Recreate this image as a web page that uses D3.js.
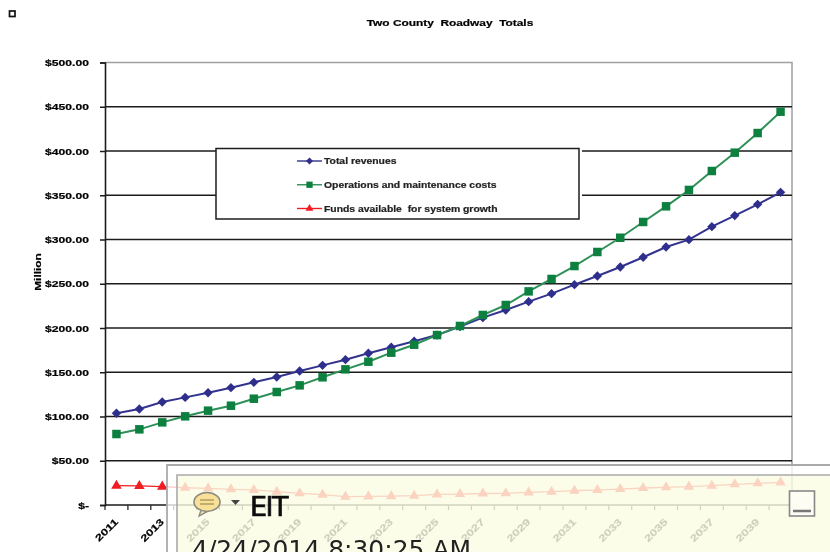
<!DOCTYPE html>
<html><head><meta charset="utf-8">
<script src="https://cdn.jsdelivr.net/npm/d3@7/dist/d3.min.js"></script>
<style>
html,body{margin:0;padding:0;background:#fff}
svg{display:block}
text{font-family:"Liberation Sans",Arial,sans-serif}
</style></head><body>
<svg id="c" width="830" height="552"></svg>
<script>
const years = d3.range(2011, 2041);
const yTicks = [0,50,100,150,200,250,300,350,400,450,500];
const revenues = [103.6,108.5,116.4,121.6,126.9,132.6,138.6,144.6,151.4,157.8,164.2,171.4,178.2,185,192,201.5,211.7,220.3,229.8,238.8,249,258.8,268.9,279.9,291.5,299.8,314.5,327,339.7,353.3];
const costs = [80.2,85.5,93.4,100.2,106.6,112.2,120.1,127.7,135.2,144.3,153.3,161.9,172.1,181.1,192,202.3,214.7,226,241.4,255.4,270,285.9,302,319.8,337.5,356,377.4,398.1,420.3,444.4];
const funds = [21.8,21.5,20.7,19.5,18.8,17.7,17,15,13.2,11.7,9.4,9.7,10,10.5,12,12.4,13,13.2,14.3,15,16.2,17,18,19.2,20,20.7,21.8,23.4,24.5,25.6];
const seriesNames = ["Total revenues","Operations and maintenance costs","Funds available  for system growth"];
const seriesColors = ["#2e2e8c","#0b8040","#f01c24"];
const lineColors = ["#33338f","#2f9058","#f01c24"];
const squareDiamond = {draw(ctx,s){const r=Math.sqrt(s/2);ctx.moveTo(0,-r);ctx.lineTo(r,0);ctx.lineTo(0,r);ctx.lineTo(-r,0);ctx.closePath();}};
const seriesSymbols = [squareDiamond,d3.symbolSquare,d3.symbolTriangle];
const seriesSizes = [44,72,48];
const seriesValues = [revenues,costs,funds];

const svg = d3.select("#c");
const defs = svg.append("defs");
defs.append("filter").attr("id","soft").attr("filterUnits","userSpaceOnUse").attr("x",0).attr("y",0).attr("width",830).attr("height",552)
  .append("feGaussianBlur").attr("stdDeviation",0.6);
defs.append("filter").attr("id","soft2").attr("filterUnits","userSpaceOnUse").attr("x",0).attr("y",0).attr("width",830).attr("height",552)
  .append("feGaussianBlur").attr("stdDeviation",0.35);

const L=105,R=792,T=62.5,B=505;
const x = d3.scaleBand().domain(years).range([L,R]);
const y = d3.scaleLinear().domain([0,500]).range([B,T]);
const g = svg.append("g").attr("filter","url(#soft)");
const ink="#1c1c1c";
const boldText = s => s.attr("font-weight","bold").attr("fill","#000").attr("stroke","#000").attr("stroke-width",0.2);
// the reference's lettering is horizontally stretched Arial
const widen = (s,k) => s.each(function(){
  this.setAttribute("textLength", this.getComputedTextLength()*k);
  this.setAttribute("lengthAdjust","spacingAndGlyphs");
});

// frame
g.append("path").attr("d",`M${L},${T}H${R}V${B}`).attr("fill","none").attr("stroke","#a0a0a0").attr("stroke-width",1.5);
// gridlines
g.append("g").selectAll("line").data(yTicks.filter(d=>d>0&&d<500)).join("line")
  .attr("x1",L).attr("x2",R).attr("y1",d=>y(d)).attr("y2",d=>y(d))
  .attr("stroke",ink).attr("stroke-width",1.5);

// y axis
const yAxis = d3.axisLeft(y).tickValues(yTicks).tickSize(5).tickPadding(11)
  .tickFormat(d=>d===0?"$-":d3.format("$.2f")(d));
const ya = g.append("g").attr("transform",`translate(${L},0)`).call(yAxis);
ya.select("path.domain").attr("stroke",ink).attr("stroke-width",1.6);
ya.selectAll("line").attr("stroke",ink).attr("stroke-width",1.5);
ya.selectAll("text").attr("font-size",9.5).call(boldText).call(widen,1.28);

// x axis
const xa = g.append("g").attr("transform",`translate(0,${B})`);
xa.append("line").attr("x1",L).attr("x2",R).attr("stroke",ink).attr("stroke-width",1.5);
xa.selectAll(".t").data(years.concat([null])).join("line").attr("class","t")
  .attr("x1",d=>d===null?R:x(d)).attr("x2",d=>d===null?R:x(d)).attr("y1",0).attr("y2",5)
  .attr("stroke",ink).attr("stroke-width",1.2);
xa.selectAll("text").data(years.filter((d,i)=>i%2===0)).join("text")
  .attr("transform",d=>`translate(${x(d)+x.bandwidth()/2},15) rotate(-45)`)
  .attr("text-anchor","end").attr("dy","0.35em")
  .attr("font-size",9.5).call(boldText).text(d=>d).call(widen,1.35);

// titles
g.append("text").attr("x",450).attr("y",25.5).attr("text-anchor","middle").attr("font-size",9)
  .call(boldText).style("white-space","pre").text("Two County  Roadway  Totals").call(widen,1.32);
g.append("text").attr("transform","translate(41,272) rotate(-90)").attr("text-anchor","middle")
  .attr("font-size",9.5).call(boldText).text("Million").call(widen,1.25);

// legend box
g.append("rect").attr("x",216).attr("y",148.5).attr("width",366).attr("height",73).attr("fill","#fff");
g.append("rect").attr("x",216).attr("y",148.5).attr("width",363).attr("height",70.5)
  .attr("fill","#fff").attr("stroke",ink).attr("stroke-width",1.5);

// series
const line = d3.line().x((d,i)=>x(years[i])+x.bandwidth()/2).y(d=>y(d));
seriesValues.forEach((vals,k)=>{
  const sg=g.append("g");
  sg.append("path").attr("d",line(vals)).attr("fill","none").attr("stroke",lineColors[k]).attr("stroke-width",k===2?1.3:2);
  sg.selectAll("path.m").data(vals).join("path").attr("class","m")
    .attr("d",d3.symbol().type(seriesSymbols[k]).size(seriesSizes[k]))
    .attr("transform",(d,i)=>`translate(${x(years[i])+x.bandwidth()/2},${y(d)})`)
    .attr("fill",seriesColors[k]);
});

// legend entries
const ly=d3.scalePoint().domain(seriesNames).range([161,208.5]);
const lg=g.append("g").selectAll("g").data(seriesNames).join("g").attr("transform",d=>`translate(0,${ly(d)})`);
lg.append("line").attr("x1",297).attr("x2",322).attr("stroke",(d,i)=>lineColors[i]).attr("stroke-width",1.4);
lg.append("path").attr("d",(d,i)=>d3.symbol().type(seriesSymbols[i]).size(seriesSizes[i]*0.55)())
  .attr("transform","translate(309.5,0)").attr("fill",(d,i)=>seriesColors[i]);
lg.append("text").attr("x",324).attr("dy","0.35em").attr("font-size",8.8).call(boldText)
  .attr("fill","#222").attr("stroke","#222").style("white-space","pre").text(d=>d).call(widen,1.18);

// top-left marker
svg.append("rect").attr("x",9.5).attr("y",11).attr("width",5.5).attr("height",5.5).attr("fill","#fff").attr("stroke","#111").attr("stroke-width",1.7);

// sticky note overlay
const n=svg.append("g").attr("filter","url(#soft2)");
n.append("path").attr("fill-rule","evenodd").attr("d","M167,465H840V560H167Z M177,475V560H840V475Z").attr("fill","#fff").attr("fill-opacity",0.78);
n.append("rect").attr("x",177).attr("y",475).attr("width",660).attr("height",85).attr("fill","#fbfce4").attr("fill-opacity",0.82);
n.append("path").attr("d","M167,560V465H840").attr("fill","none").attr("stroke","#aaa").attr("stroke-width",1.8);
n.append("path").attr("d","M177,560V475H840").attr("fill","none").attr("stroke","#aaa").attr("stroke-width",1.6);
// icon
n.append("path").attr("d","M201,510 L199,516 L208,511Z").attr("fill","#f6dc90").attr("stroke","#888").attr("stroke-width",1.3);
n.append("ellipse").attr("cx",207).attr("cy",502).attr("rx",13).attr("ry",9.5).attr("fill","#f8e098").attr("stroke","#8a8a80").attr("stroke-width",1.6);
n.append("path").attr("d","M200,500h14M200,504h14").attr("stroke","#8a7a40").attr("stroke-width",1.2);
n.append("path").attr("d","M231,500h9l-4.5,5z").attr("fill","#444");
n.append("text").attr("x",250).attr("y",516).attr("font-size",27).attr("letter-spacing",-1.5).attr("fill","#111").attr("stroke","#111").attr("stroke-width",0.7).style("font-family","'DejaVu Sans'").text("EIT");
n.append("text").attr("x",192).attr("y",558).attr("font-size",25).attr("fill","#222").style("font-family","'DejaVu Sans'").text("4/24/2014 8:30:25 AM");
// minimize button
n.append("rect").attr("x",789.5).attr("y",491).attr("width",25).attr("height",25).attr("fill","#fdfdf4").attr("stroke","#888").attr("stroke-width",1.6);
n.append("line").attr("x1",793).attr("x2",811).attr("y1",511).attr("y2",511).attr("stroke","#777").attr("stroke-width",2.5);
</script>
</body></html>
